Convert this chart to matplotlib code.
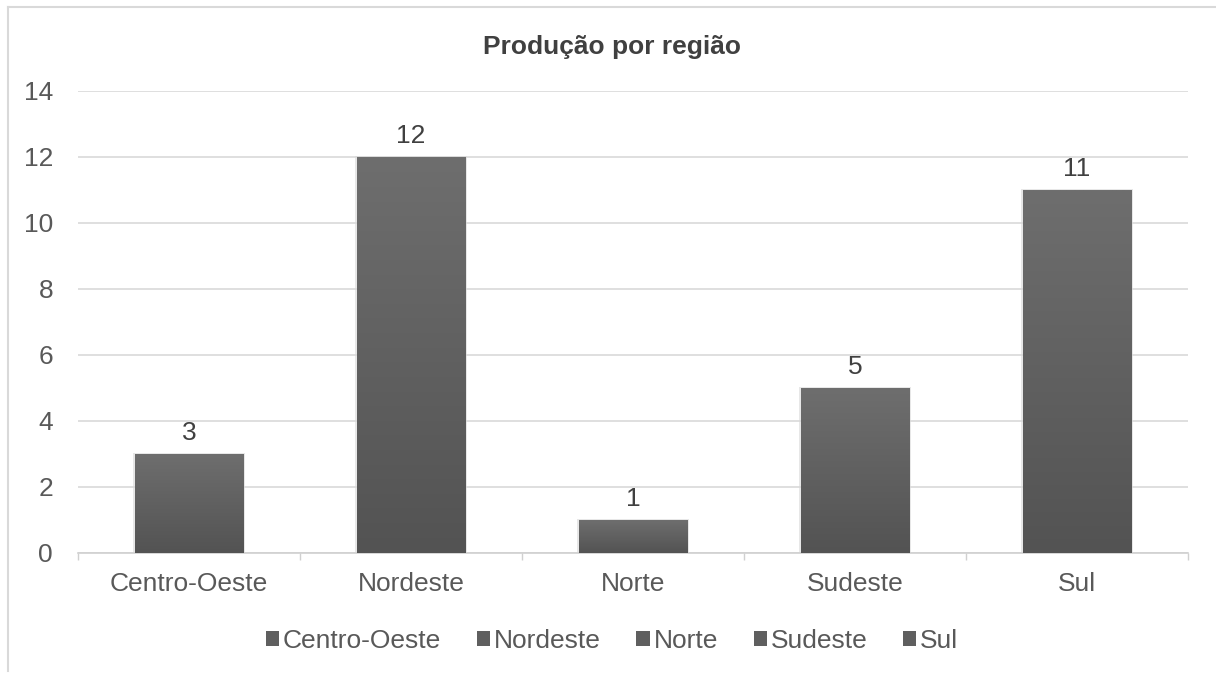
import matplotlib
matplotlib.use("Agg")
import matplotlib.pyplot as plt
import numpy as np
from matplotlib.patches import Rectangle
from matplotlib.colors import LinearSegmentedColormap

categories = ["Centro-Oeste", "Nordeste", "Norte", "Sudeste", "Sul"]
values = [3, 12, 1, 5, 11]
yticks = [0, 2, 4, 6, 8, 10, 12, 14]
title = "Produção por região"

plt.rcParams['font.family'] = ['Liberation Sans', 'DejaVu Sans']
txt = '#595959'
FS = 19

fig = plt.figure(figsize=(12.16, 6.73), dpi=100)
ax = fig.add_axes([78/1216, 1-553/673, 1110/1216, 462/673])

x = np.arange(len(categories))
bars = ax.bar(x, values, width=0.49, color='#5e5e5e', zorder=3)

# gradient fill clipped to each bar
grad = np.linspace(0, 1, 256).reshape(-1, 1)
cmap = LinearSegmentedColormap.from_list('g', ['#535353', '#6e6e6e'])
for b in bars:
    x0, y0 = b.get_x(), b.get_y()
    w, h = b.get_width(), b.get_height()
    im = ax.imshow(grad, extent=[x0, x0 + w, y0, y0 + h], origin='lower',
                   cmap=cmap, aspect='auto', zorder=4)
    im.set_clip_path(b)
    ax.add_patch(Rectangle((x0 - 0.006, y0), w + 0.012, h + 0.03, facecolor='#d8d8d8',
                           edgecolor='none', zorder=2.5, alpha=0.6))

for xi, v in zip(x, values):
    ax.annotate(str(v), (xi, v), xytext=(0, 10), textcoords='offset points',
                ha='center', va='baseline', fontsize=FS, color='#404040')

ax.set_xlim(-0.5, len(categories) - 0.5)
ax.set_ylim(0, 14)
ax.set_yticks(yticks)
ax.set_yticklabels([str(t) for t in yticks], fontsize=FS, color=txt)
ax.set_xticks(x)
ax.set_xticklabels(categories, fontsize=FS, color=txt)
ax.tick_params(axis='y', length=0, pad=18)
ax.tick_params(axis='x', length=0, pad=14)
ax.set_xticks(np.arange(len(categories) + 1) - 0.5, minor=True)
ax.tick_params(axis='x', which='minor', length=5, color='#d0d0d0', width=1)

ax.grid(axis='y', color='#d9d9d9', linewidth=1.2, zorder=0)
for s in ['top', 'right', 'left']:
    ax.spines[s].set_visible(False)
ax.spines['bottom'].set_color('#d0d0d0')
ax.spines['bottom'].set_linewidth(1.2)

fig.text(612/1216, 1-47/673, title, ha='center', va='center', fontsize=FS,
         fontweight='bold', color='#404040')

handles = [Rectangle((0, 0), 1, 1, facecolor='#5f5f5f') for _ in categories]
leg = fig.legend(handles, categories, loc='center', bbox_to_anchor=(612/1216, 1-641/673),
                 ncol=5, frameon=False, fontsize=FS, handlelength=0.5, handleheight=0.5,
                 handletextpad=0.15, columnspacing=1.35)
for t in leg.get_texts():
    t.set_color(txt)

# chart frame (left and top)
fig.add_artist(plt.Line2D([8/1216, 8/1216], [1-671/673, 1-7/673], transform=fig.transFigure,
                          color='#d9d9d9', linewidth=1.5))
fig.add_artist(plt.Line2D([8/1216, 1.0], [1-7/673, 1-7/673], transform=fig.transFigure,
                          color='#d9d9d9', linewidth=1.5))

fig.savefig('out.png', dpi=100, facecolor='white')
